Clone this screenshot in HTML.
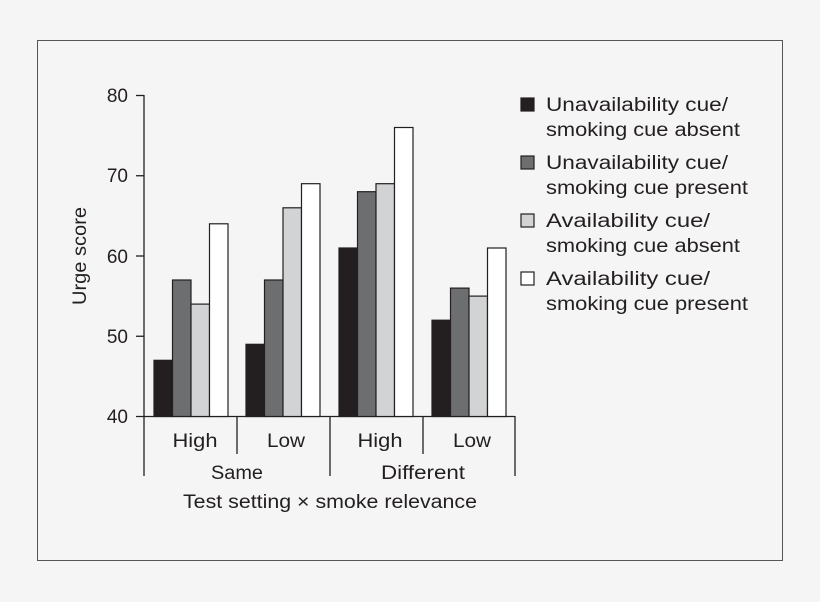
<!DOCTYPE html>
<html><head><style>body{margin:0;background:#f5f5f5}</style></head><body>
<svg width="820" height="602" xmlns="http://www.w3.org/2000/svg" style="display:block;font-family:'Liberation Sans',sans-serif">
<rect x="0" y="0" width="820" height="602" fill="#f5f5f5"/>
<rect x="37.5" y="40.5" width="745" height="520" fill="none" stroke="#555" stroke-width="1"/>
<g stroke="#231f20" stroke-width="1.3" fill="none">
<line x1="144" y1="95" x2="144" y2="476"/>
<line x1="136" y1="95.5" x2="144" y2="95.5"/>
<line x1="136" y1="175.75" x2="144" y2="175.75"/>
<line x1="136" y1="256" x2="144" y2="256"/>
<line x1="136" y1="336.25" x2="144" y2="336.25"/>
<line x1="136" y1="416.5" x2="515" y2="416.5"/>
<line x1="237" y1="416" x2="237" y2="454"/>
<line x1="330" y1="416" x2="330" y2="476"/>
<line x1="423" y1="416" x2="423" y2="454"/>
<line x1="515" y1="416" x2="515" y2="476"/>
</g>
<g font-size="19" fill="#231f20" text-anchor="end">
<text x="128" y="102">80</text><text x="128" y="182">70</text><text x="128" y="263">60</text><text x="128" y="343">50</text><text x="128" y="423">40</text>
</g>
<text transform="translate(86,256) rotate(-90)" font-size="19" fill="#231f20" text-anchor="middle" textLength="98" lengthAdjust="spacingAndGlyphs">Urge score</text>
<g stroke="#231f20" stroke-width="1.2">
<rect x="154" y="360.3" width="18.5" height="56.2" fill="#231f20"/>
<rect x="172.5" y="280" width="18.5" height="136.5" fill="#6d6e70"/>
<rect x="191" y="304.1" width="18.5" height="112.4" fill="#d1d3d4"/>
<rect x="209.5" y="223.8" width="18.5" height="192.7" fill="#fff"/>
<rect x="246" y="344.3" width="18.5" height="72.2" fill="#231f20"/>
<rect x="264.5" y="280" width="18.5" height="136.5" fill="#6d6e70"/>
<rect x="283" y="207.8" width="18.5" height="208.7" fill="#d1d3d4"/>
<rect x="301.5" y="183.7" width="18.5" height="232.8" fill="#fff"/>
<rect x="339" y="248" width="18.5" height="168.5" fill="#231f20"/>
<rect x="357.5" y="191.7" width="18.5" height="224.8" fill="#6d6e70"/>
<rect x="376" y="183.7" width="18.5" height="232.8" fill="#d1d3d4"/>
<rect x="394.5" y="127.5" width="18.5" height="289" fill="#fff"/>
<rect x="432" y="320.2" width="18.5" height="96.3" fill="#231f20"/>
<rect x="450.5" y="288.1" width="18.5" height="128.4" fill="#6d6e70"/>
<rect x="469" y="296.1" width="18.5" height="120.4" fill="#d1d3d4"/>
<rect x="487.5" y="248" width="18.5" height="168.5" fill="#fff"/>
</g>
<g font-size="19" fill="#231f20" text-anchor="middle">
<text x="195" y="447" textLength="45" lengthAdjust="spacingAndGlyphs">High</text><text x="286" y="447" textLength="38" lengthAdjust="spacingAndGlyphs">Low</text>
<text x="380" y="447" textLength="45" lengthAdjust="spacingAndGlyphs">High</text><text x="472" y="447" textLength="38" lengthAdjust="spacingAndGlyphs">Low</text>
<text x="237" y="479" textLength="52" lengthAdjust="spacingAndGlyphs">Same</text><text x="423" y="479" textLength="84" lengthAdjust="spacingAndGlyphs">Different</text>
<text x="330" y="508" textLength="294" lengthAdjust="spacingAndGlyphs">Test setting × smoke relevance</text>
</g>
<g stroke="#231f20" stroke-width="1.2">
<rect x="521" y="98" width="13" height="13" fill="#231f20"/>
<rect x="521" y="156" width="13" height="13" fill="#6d6e70"/>
<rect x="521" y="214" width="13" height="13" fill="#d1d3d4"/>
<rect x="521" y="272" width="13" height="13" fill="#fff"/>
</g>
<g font-size="19" fill="#231f20" lengthAdjust="spacingAndGlyphs">
<text x="546" y="111" textLength="182" lengthAdjust="spacingAndGlyphs">Unavailability cue/</text><text x="546" y="136" textLength="194" lengthAdjust="spacingAndGlyphs">smoking cue absent</text>
<text x="546" y="169" textLength="182" lengthAdjust="spacingAndGlyphs">Unavailability cue/</text><text x="546" y="194" textLength="202" lengthAdjust="spacingAndGlyphs">smoking cue present</text>
<text x="546" y="227" textLength="164" lengthAdjust="spacingAndGlyphs">Availability cue/</text><text x="546" y="252" textLength="194" lengthAdjust="spacingAndGlyphs">smoking cue absent</text>
<text x="546" y="285" textLength="164" lengthAdjust="spacingAndGlyphs">Availability cue/</text><text x="546" y="310" textLength="202" lengthAdjust="spacingAndGlyphs">smoking cue present</text>
</g>
</svg>
</body></html>
